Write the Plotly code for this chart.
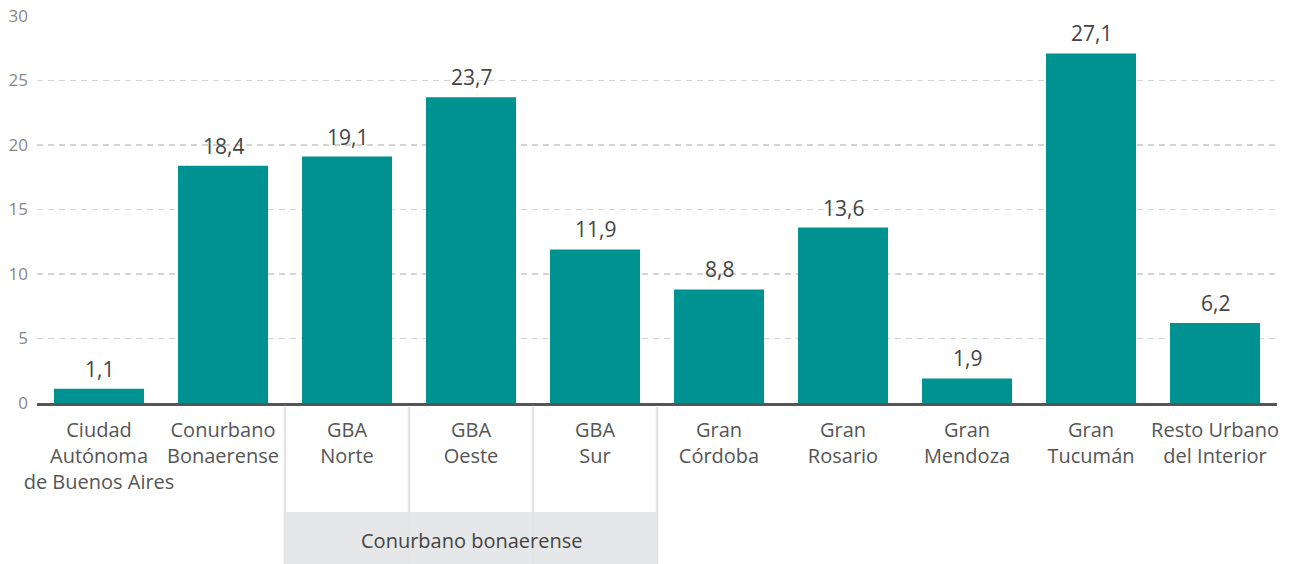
import plotly.graph_objects as go

categories = [
    "Ciudad<br>Autónoma<br>de Buenos Aires",
    "Conurbano<br>Bonaerense",
    "GBA<br>Norte",
    "GBA<br>Oeste",
    "GBA<br>Sur",
    "Gran<br>Córdoba",
    "Gran<br>Rosario",
    "Gran<br>Mendoza",
    "Gran<br>Tucumán",
    "Resto Urbano<br>del Interior",
]
values = [1.1, 18.4, 19.1, 23.7, 11.9, 8.8, 13.6, 1.9, 27.1, 6.2]
group_label = "Conurbano bonaerense"
group_members = [2, 3, 4]
y_ticks = [0, 5, 10, 15, 20, 25, 30]

FONT = "'Open Sans', Lato, sans-serif"
TEAL = "#009290"

fig = go.Figure()
fig.add_trace(go.Bar(
    x=list(range(len(categories))),
    y=values,
    marker=dict(color=TEAL, line=dict(width=0)),
    hoverinfo="skip",
))

# value labels above bars
for i, v in enumerate(values):
    fig.add_annotation(x=i, y=v, xref="x", yref="y",
                       text=f"{v:.1f}".replace(".", ","),
                       showarrow=False, yanchor="bottom", yshift=4,
                       font=dict(family=FONT, size=21, color="#444444"))

shapes = []
lo = group_members[0] - 0.5
hi = group_members[-1] + 0.5
shapes.append(dict(type="rect", xref="x", yref="paper", x0=lo, x1=hi,
                   y0=-0.42, y1=-0.2817, fillcolor="#e6e7e8",
                   line=dict(width=0), layer="below"))
for xv in [lo] + [m + 0.5 for m in group_members]:
    shapes.append(dict(type="line", xref="x", yref="paper", x0=xv, x1=xv,
                       y0=-0.0103, y1=-0.42,
                       line=dict(color="#e4e4e4", width=2.5), layer="below"))
fig.update_layout(shapes=shapes)

fig.add_annotation(x=(lo + hi) / 2, xref="x", y=-0.355, yref="paper",
                   text=group_label, showarrow=False,
                   font=dict(family=FONT, size=20, color="#444444"),
                   xanchor="center", yanchor="middle")

fig.update_layout(
    width=1293, height=564,
    margin=dict(l=37, r=16, t=16, b=161, autoexpand=False),
    plot_bgcolor="white", paper_bgcolor="white",
    showlegend=False,
    bargap=0.274,
    font=dict(family=FONT),
    xaxis=dict(
        tickmode="array",
        tickvals=list(range(len(categories))),
        ticktext=categories,
        tickangle=0,
        range=[-0.5, len(categories) - 0.5],
        showgrid=False, zeroline=False,
        showline=True, linecolor="#555555", linewidth=2.5,
        ticks="", automargin=False, ticklabelstandoff=7,
        tickfont=dict(family=FONT, size=20, color="#555555"),
        fixedrange=True,
    ),
    yaxis=dict(
        range=[0, 30],
        tickvals=y_ticks,
        showgrid=True, gridcolor="#d4d4d4", gridwidth=1.5,
        griddash="6px,5px",
        zeroline=False, showline=False,
        ticks="", automargin=False, ticklabelstandoff=8,
        ticklabeloverflow="allow",
        tickfont=dict(family=FONT, size=17, color="#888888"),
        fixedrange=True,
    ),
)

fig.write_html("out.html",
               config={"displayModeBar": False, "staticPlot": True},
               post_script="document.body.style.margin='0';document.body.style.overflow='hidden';")
